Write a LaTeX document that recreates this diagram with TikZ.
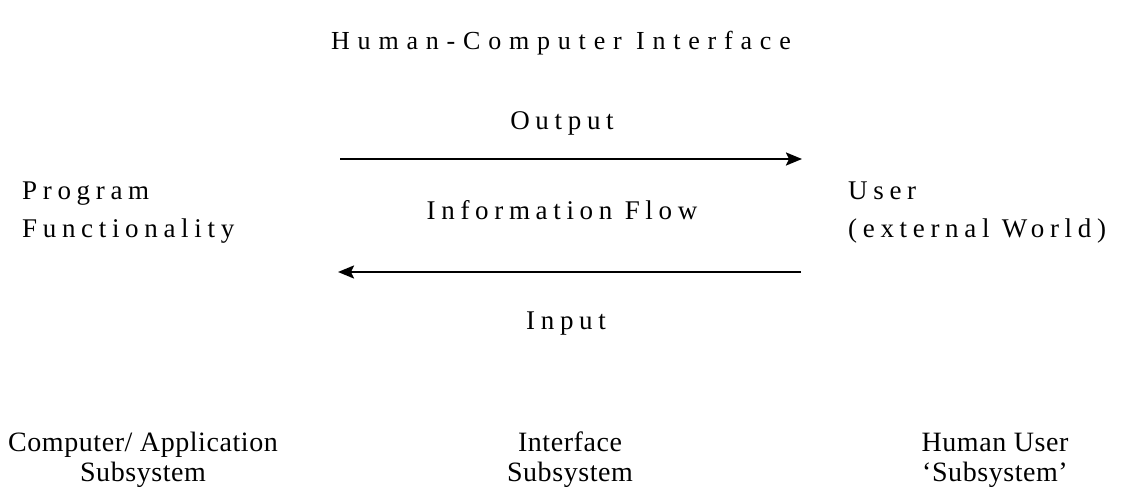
\documentclass[tikz,border=0pt]{standalone}
\usepackage{fontspec}
\setmainfont{Liberation Serif}
\newfontfamily\titlefont[LetterSpace=30]{Liberation Serif}
\newfontfamily\spacedfont[LetterSpace=21]{Liberation Serif}
\newfontfamily\subfont[LetterSpace=2]{Liberation Serif}
\usetikzlibrary{arrows.meta}

\begin{document}
\begin{tikzpicture}[x = 1pt, y = -1pt]
\tikzstyle{spacedStyle} = [inner sep = 0pt, anchor = base, font = \spacedfont\fontsize{27}{38}\selectfont]
\tikzstyle{titleStyle} = [spacedStyle, font = \titlefont\fontsize{26}{30}\selectfont]
\tikzstyle{sideStyle} = [spacedStyle, anchor = base west, align = left]
\tikzstyle{subStyle} = [inner sep = 0pt, anchor = base, align = center, font = \subfont\fontsize{28}{30}\selectfont]
\tikzstyle{flowStyle} = [line width = 2.2pt, -{Stealth[length = 16pt, width = 13pt, inset = 3pt]}]
\useasboundingbox (0,0) rectangle (1122,497);
\node[titleStyle] (title) at (561,50) {Human-Computer Interface};
\node[spacedStyle] (output) at (562,130) {Output};
\node[spacedStyle] (flow) at (562,220) {Information Flow};
\node[spacedStyle] (input) at (566,329) {Input};
\node[sideStyle] (prog) at (22,238) {Program\\Functionality};
\node[sideStyle] (user) at (848,238) {User\\(external World)};
\node[subStyle] (compsub) at (143,481) {Computer/ Application\\Subsystem};
\node[subStyle] (ifsub) at (570,481) {Interface\\Subsystem};
\node[subStyle] (usersub) at (995,481) {Human User\\‘Subsystem’};
\coordinate (outA) at (340,159);
\coordinate (outB) at (802,159);
\coordinate (inA) at (801,272);
\coordinate (inB) at (338,272);
\draw[flowStyle] (outA) -- (outB);
\draw[flowStyle] (inA) -- (inB);
\end{tikzpicture}
\end{document}
